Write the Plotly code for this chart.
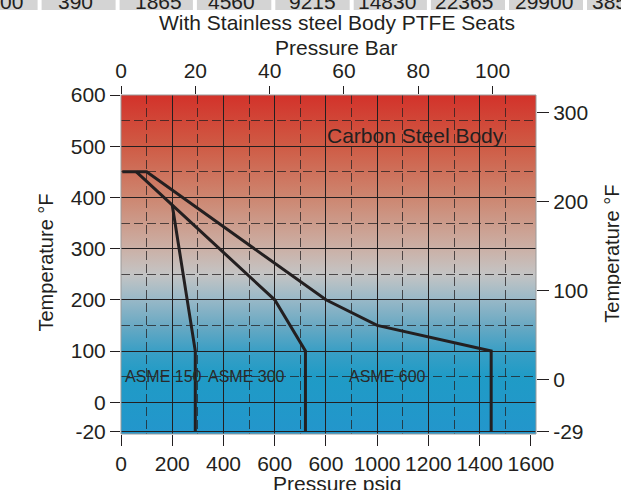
import base64
import plotly.graph_objects as go

# ---------------- data ----------------
asme600_psig = [5, 100, 800, 1000, 1445, 1445]
asme600_temp = [450, 450, 200, 150, 100, -20]
asme300_psig = [60, 600, 720, 720]
asme300_temp = [450, 200, 100, -20]
asme150_psig = [200, 290, 290]
asme150_temp = [385, 100, -20]

psig_ticks = [0, 200, 400, 600, 800, 1000, 1200, 1400, 1600]
psig_ticktext = ["0", "200", "400", "600", "600", "1000", "1200", "1400", "1600"]
psig_grid = [0, 200, 400, 600, 800, 1000, 1200, 1400]
psig_minor = [100, 300, 500, 700, 900, 1100, 1300, 1500]
bar_ticks = [0, 20, 40, 60, 80, 100]
tempF_ticks = [-20, 0, 100, 200, 300, 400, 500, 600]
tempF_minor = [50, 150, 250, 350, 450, 550]
tempC_ticks = [-29, 0, 100, 200, 300]

region_labels = ["ASME 150", "ASME 300", "ASME 600"]
region_label_psig = [165, 490, 1042]
region_label_temp = [50, 50, 50]

top_row_text = ["00", "390", "1865", "4560", "9215", "14830", "22365", "29900", "3850"]

PSI_PER_BAR = 14.5038

# The reference axis is compressed below 0 (the -20 line sits at the bottom edge)
def f_axis(t):
    return t if t >= 0 else t * 2.85

def c_axis(c):
    return c if c >= 0 else c * 2.03

# ---------------- layout geometry ----------------
W, H = 621, 490
L, R, T, B = 121, 536, 95, 434
X_MAX = 1620
Y_MIN, Y_MAX = -62, 600

def px_x(p):
    return (p - L) / (R - L)

def px_y(p):
    return (B - p) / (B - T)

INK = "#231f20"
DASH_INK = "rgba(35,31,32,0.75)"
FONT = "Liberation Sans, Arial, sans-serif"

# gradient background as SVG
grad = [(600, "#d3322a"), (500, "#cf5b45"), (400, "#cd8670"), (300, "#cbb0a6"),
        (250, "#c4c4c4"), (200, "#98b8c7"), (150, "#6aa9c3"), (100, "#3a9fc5"),
        (50, "#1f9bc6"), (Y_MIN, "#2396cc")]
stops = "".join(
    f'<stop offset="{(Y_MAX - v) / (Y_MAX - Y_MIN):.4f}" stop-color="{c}"/>' for v, c in grad
)
svg = (
    '<svg xmlns="http://www.w3.org/2000/svg" width="10" height="100" viewBox="0 0 10 100" '
    'preserveAspectRatio="none"><defs><linearGradient id="g" x1="0" y1="0" x2="0" y2="1">'
    + stops + '</linearGradient></defs><rect width="10" height="100" fill="url(#g)"/></svg>'
)
svg_uri = "data:image/svg+xml;base64," + base64.b64encode(svg.encode()).decode()

fig = go.Figure()

for xs, ys in [(asme600_psig, asme600_temp), (asme300_psig, asme300_temp),
               (asme150_psig, asme150_temp)]:
    fig.add_trace(go.Scatter(
        x=xs, y=[f_axis(v) for v in ys], mode="lines",
        line=dict(color=INK, width=3), showlegend=False, hoverinfo="skip"))

# empty traces so the overlaying axes are drawn
fig.add_trace(go.Scatter(x=[None], y=[None], xaxis="x2", yaxis="y2",
                         showlegend=False, hoverinfo="skip"))
fig.add_trace(go.Scatter(x=[None], y=[None], xaxis="x3", yaxis="y",
                         showlegend=False, hoverinfo="skip"))

tickfont = dict(family=FONT, size=21, color=INK)

fig.update_layout(
    width=W, height=H,
    margin=dict(l=L, r=W - R, t=T, b=H - B),
    paper_bgcolor="white", plot_bgcolor="rgba(0,0,0,0)",
    font=dict(family=FONT, color=INK),
    xaxis=dict(
        range=[0, X_MAX], tickmode="array", tickvals=psig_ticks, ticktext=psig_ticktext,
        ticks="outside", ticklen=11, tickcolor=INK, tickwidth=1,
        showgrid=False, zeroline=False, showline=False, tickfont=tickfont,
    ),
    xaxis3=dict(
        overlaying="x", anchor="y", range=[0, X_MAX], tickmode="array", tickvals=psig_grid,
        showticklabels=False, ticks="", showgrid=True, gridcolor=INK, gridwidth=1,
        zeroline=False, showline=False,
        minor=dict(tickmode="array", tickvals=psig_minor, showgrid=True,
                   gridcolor=DASH_INK, griddash="9px,4px", gridwidth=1, ticks=""),
    ),
    yaxis=dict(
        range=[Y_MIN, Y_MAX], tickmode="array", tickvals=[f_axis(t) for t in tempF_ticks],
        ticktext=[str(t) for t in tempF_ticks],
        ticks="outside", ticklen=10, tickcolor=INK, tickwidth=1,
        showgrid=True, gridcolor=INK, gridwidth=1, zeroline=False, showline=False,
        tickfont=tickfont,
        minor=dict(tickmode="array", tickvals=tempF_minor, showgrid=True,
                   gridcolor=DASH_INK, griddash="9px,4px", gridwidth=1, ticks=""),
    ),
    xaxis2=dict(
        overlaying="x", side="top", anchor="y", range=[0, X_MAX / PSI_PER_BAR],
        tickmode="array", tickvals=bar_ticks, ticktext=[str(t) for t in bar_ticks],
        ticks="outside", ticklen=8, tickcolor=INK, showgrid=False, zeroline=False,
        showline=False, tickfont=tickfont,
    ),
    yaxis2=dict(
        overlaying="y", side="right", anchor="x", range=[-61.5, 319.4],
        tickmode="array", tickvals=[c_axis(t) for t in tempC_ticks],
        ticktext=[str(t) for t in tempC_ticks],
        ticks="outside", ticklen=12, tickcolor=INK, showgrid=False, zeroline=False,
        showline=False, tickfont=tickfont,
    ),
    images=[dict(source=svg_uri, xref="paper", yref="paper", x=0, y=1, sizex=1, sizey=1,
                 xanchor="left", yanchor="top", sizing="stretch", layer="below")],
)

shapes = [dict(type="rect", xref="paper", yref="paper", x0=0, x1=1, y0=0, y1=1,
               line=dict(color="#9a9a9a", width=1), layer="above")]

# cut-off table row at the very top
cell_edges = [(-5, 37.6), (41.6, 115.6), (119.6, 192.9), (196.9, 271.3), (275.3, 349.7),
              (353.7, 426.9), (430.9, 505), (509, 583), (587, 630)]
for x0, x1 in cell_edges:
    shapes.append(dict(type="rect", xref="paper", yref="paper", x0=px_x(x0), x1=px_x(x1),
                       y0=px_y(10), y1=px_y(-10), line=dict(width=0), fillcolor="#d4d4d4",
                       layer="below"))
fig.update_layout(shapes=shapes)

ann = []
cell_centers = [12, 75.9, 158.4, 231.7, 312, 387, 464.4, 543.6, 612]
for txt, cx in zip(top_row_text, cell_centers):
    if txt == "00":
        ann.append(dict(text=txt, x=px_x(25), xanchor="right", y=px_y(1.5), yanchor="middle"))
    elif txt == "3850":
        ann.append(dict(text=txt, x=px_x(590), xanchor="left", y=px_y(1.5), yanchor="middle"))
    else:
        ann.append(dict(text=txt, x=px_x(cx), xanchor="center", y=px_y(1.5), yanchor="middle"))
for a in ann:
    a.update(xref="paper", yref="paper", showarrow=False,
             font=dict(family=FONT, size=21, color=INK))

titles = [
    ("With Stainless steel Body PTFE Seats", 336.6, 23, 0, 21),
    ("Pressure Bar", 336.2, 47.5, 0, 21),
    ("Pressure psig", 336.7, 483, 0, 21),
    ("Temperature °F", 45, 262.5, -90, 20),
    ("Temperature °F", 611.7, 254, -90, 20),
]
for txt, x, y, ang, sz in titles:
    ann.append(dict(text=txt, xref="paper", yref="paper", x=px_x(x), y=px_y(y),
                    xanchor="center", yanchor="middle", textangle=ang, showarrow=False,
                    font=dict(family=FONT, size=sz, color=INK)))

ann.append(dict(text="Carbon Steel Body", x=1150, y=f_axis(520), xref="x", yref="y",
                showarrow=False, font=dict(family=FONT, size=21, color=INK)))
for txt, x, y in zip(region_labels, region_label_psig, region_label_temp):
    ann.append(dict(text=txt, x=x, y=f_axis(y), xref="x", yref="y", showarrow=False,
                    font=dict(family=FONT, size=16, color="#2a2a2a")))

fig.update_layout(annotations=ann)

fig.write_html("out.html", config={"displayModeBar": False},
               post_script="document.body.style.margin='0';")
